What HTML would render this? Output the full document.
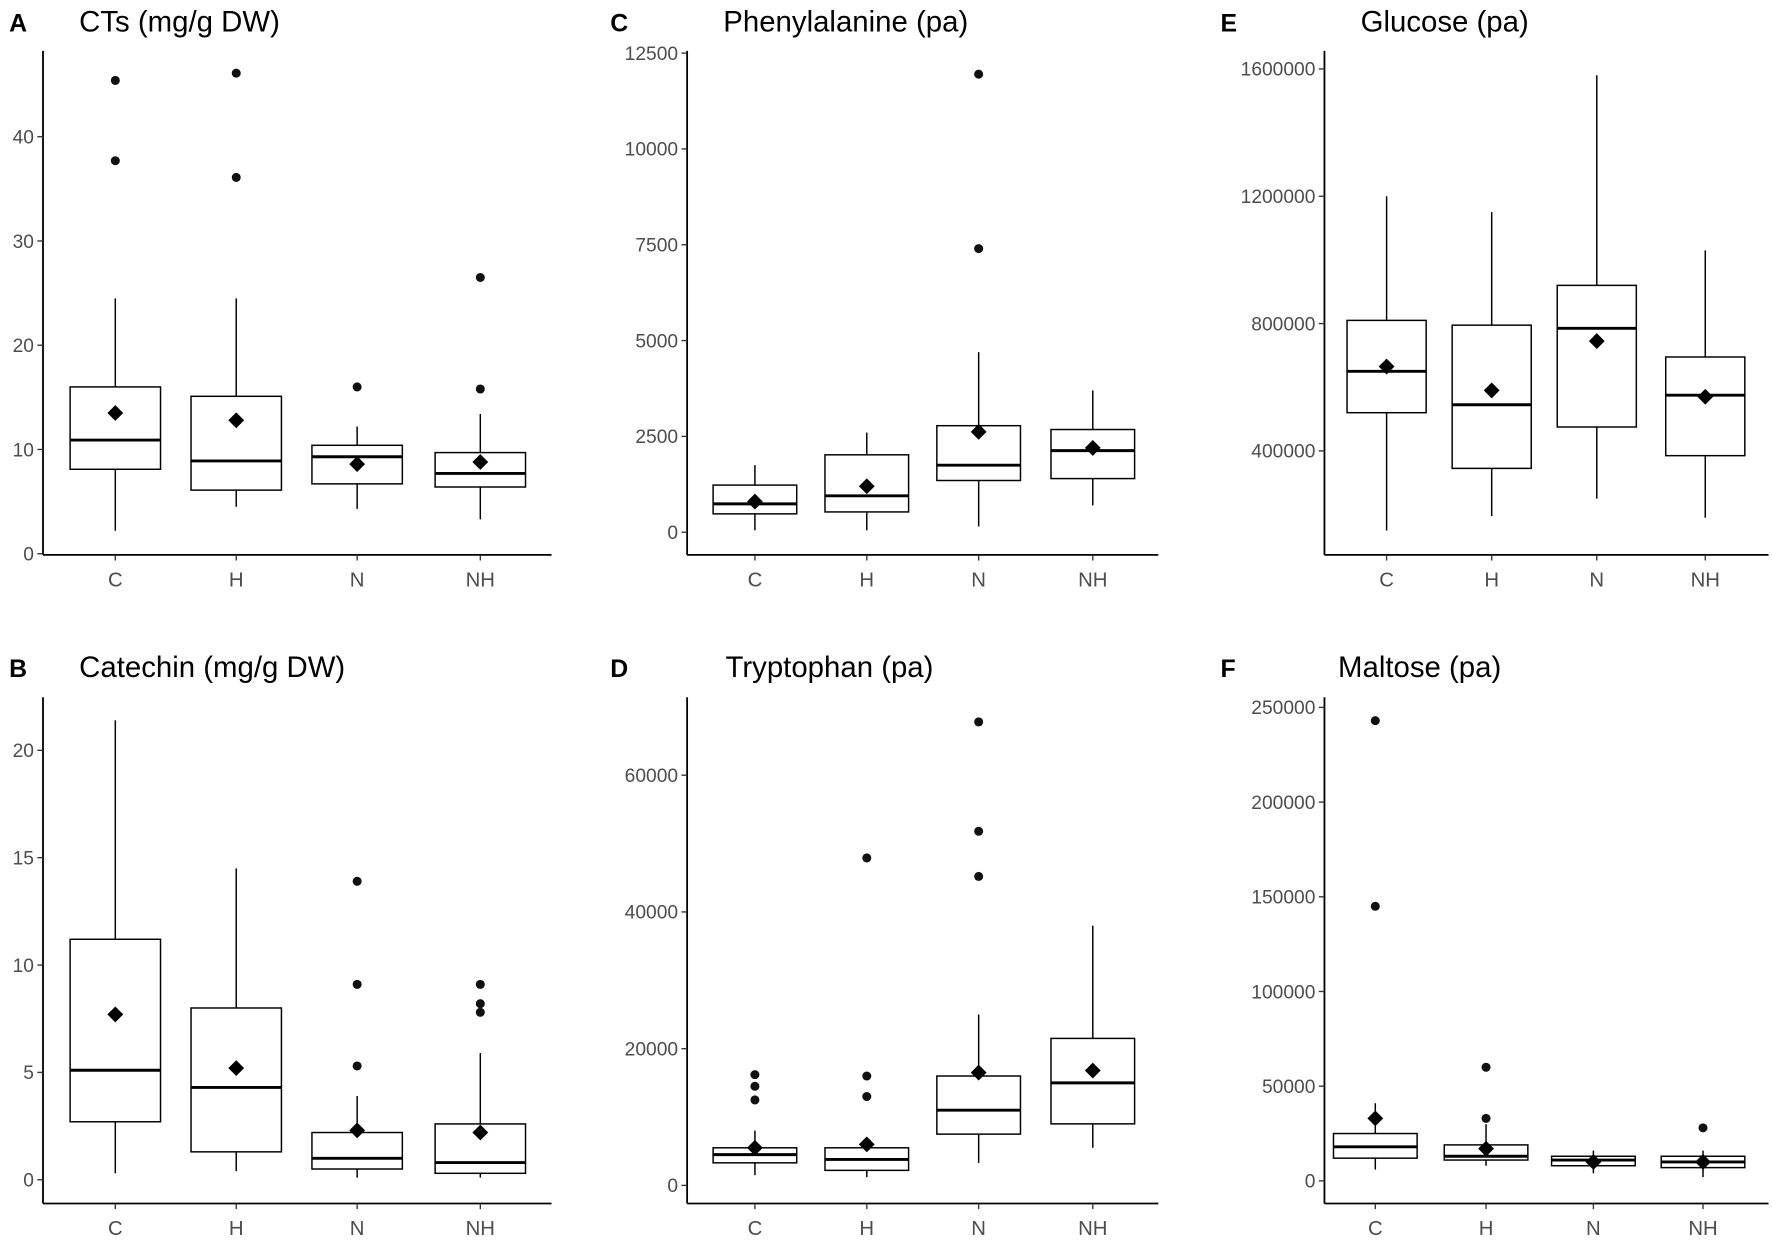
<!DOCTYPE html>
<html><head><meta charset="utf-8"><style>
html,body{margin:0;padding:0;background:#fff}
svg{display:block}
text{font-family:"Liberation Sans",sans-serif}
</style></head><body>
<svg id="fig" width="1772" height="1241" viewBox="0 0 1568 1098.2" xmlns="http://www.w3.org/2000/svg"></svg>
<script>
const categories = ["C","H","N","NH"];
// per-panel data: [whiskerLow, q1, median, q3, whiskerHigh, mean]
const statsA = [[2.2,8.1,10.9,16,24.5,13.5],[4.5,6.1,8.9,15.1,24.5,12.8],[4.3,6.7,9.3,10.4,12.2,8.6],[3.3,6.4,7.7,9.7,13.4,8.8]];
const outA = [[37.7,45.4],[36.1,46.1],[16],[15.8,26.5]];
const ticksA = [0,10,20,30,40];
const statsC = [[50,480,740,1230,1750,800],[50,530,950,2020,2600,1200],[150,1350,1750,2780,4700,2620],[700,1400,2130,2680,3700,2200]];
const outC = [[],[],[7400,11950],[]];
const ticksC = [0,2500,5000,7500,10000,12500];
const statsE = [[150000,520000,650000,810000,1200000,665000],[195000,345000,545000,795000,1150000,590000],[250000,475000,785000,920000,1580000,745000],[190000,385000,575000,695000,1030000,570000]];
const outE = [[],[],[],[]];
const ticksE = [400000,800000,1200000,1600000];
const statsB = [[0.3,2.7,5.1,11.2,21.4,7.7],[0.4,1.3,4.3,8.0,14.5,5.2],[0.1,0.5,1.0,2.2,3.9,2.3],[0.1,0.3,0.8,2.6,5.9,2.2]];
const outB = [[],[],[5.3,9.1,13.9],[7.8,8.2,9.1]];
const ticksB = [0,5,10,15,20];
const statsD = [[1500,3300,4500,5500,8000,5500],[1200,2200,3800,5500,5600,6000],[3300,7500,11000,16000,25000,16500],[5500,9000,15000,21500,38000,16800]];
const outD = [[12500,14500,16200],[13000,16000,47900],[45200,51800,67800],[]];
const ticksD = [0,20000,40000,60000];
const statsF = [[6000,12000,18000,25000,41000,33000],[8000,11000,13000,19000,30000,17000],[4000,8000,11000,13000,16000,10000],[2000,7000,10000,13000,16000,10000]];
const outF = [[145000,243000],[33000,60000],[],[28000]];
const ticksF = [0,50000,100000,150000,200000,250000];

const NS="http://www.w3.org/2000/svg";
const svg=document.getElementById('fig');
function mk(tag,attrs,parent){const e=document.createElementNS(NS,tag);for(const k in attrs)e.setAttribute(k,attrs[k]);(parent||svg).appendChild(e);return e;}

const panels=[
 {letter:"A",title:"CTs (mg/g DW)",lx:8,tx:70,ty:28,ax:38,top:45,bot:491,right:488,v0:0,y0:490,v1:40,y1:121,xs:[102,209,316,425],bw:80,stats:statsA,out:outA,ticks:ticksA},
 {letter:"C",title:"Phenylalanine (pa)",lx:540,tx:640,ty:28,ax:608,top:45,bot:491,right:1025,v0:0,y0:471,v1:12500,y1:47,xs:[668,767,866,967],bw:74,stats:statsC,out:outC,ticks:ticksC},
 {letter:"E",title:"Glucose (pa)",lx:1080,tx:1204,ty:28,ax:1172,top:45,bot:491,right:1565,v0:400000,y0:399,v1:1600000,y1:61,xs:[1227,1320,1413,1509],bw:70,stats:statsE,out:outE,ticks:ticksE},
 {letter:"B",title:"Catechin (mg/g DW)",lx:8,tx:70,ty:599,ax:38,top:617,bot:1065,right:488,v0:0,y0:1044,v1:20,y1:664,xs:[102,209,316,425],bw:80,stats:statsB,out:outB,ticks:ticksB},
 {letter:"D",title:"Tryptophan (pa)",lx:540,tx:642,ty:599,ax:608,top:617,bot:1065,right:1025,v0:0,y0:1049,v1:60000,y1:686,xs:[668,767,866,967],bw:74,stats:statsD,out:outD,ticks:ticksD},
 {letter:"F",title:"Maltose (pa)",lx:1080,tx:1184,ty:599,ax:1172,top:617,bot:1065,right:1565,v0:0,y0:1045,v1:250000,y1:626,xs:[1217,1315,1410,1507],bw:74,stats:statsF,out:outF,ticks:ticksF}
];

panels.forEach(p=>{
  const g=mk('g',{});
  
  
  const y=v=>p.y0+(v-p.v0)*(p.y1-p.y0)/(p.v1-p.v0);
  const L=mk('text',{x:p.lx,y:p.ty,'font-size':22,'font-weight':'bold',fill:'#000'},g);L.textContent=p.letter;
  
  
  const T=mk('text',{x:p.tx,y:p.ty,'font-size':26,fill:'#000'},g);T.textContent=p.title;
  
  
  const ya=mk('line',{x1:p.ax,y1:p.top,x2:p.ax,y2:p.bot,stroke:'#000','stroke-width':1.6},g);
  
  
  const xa=mk('line',{x1:p.ax,y1:p.bot,x2:p.right,y2:p.bot,stroke:'#000','stroke-width':1.6},g);
  
  
  p.ticks.forEach(t=>{
    const yy=y(t);
    mk('line',{x1:p.ax-5,y1:yy,x2:p.ax,y2:yy,stroke:'#333','stroke-width':1.2},g);
    const tl=mk('text',{x:p.ax-8,y:yy+6,'font-size':17,fill:'#4d4d4d','text-anchor':'end'},g);tl.textContent=t;
    
    
  });
  categories.forEach((c,i)=>{
    const cx=p.xs[i];const s=p.stats[i];const hw=p.bw/2;
    mk('line',{x1:cx,y1:p.bot,x2:cx,y2:p.bot+5,stroke:'#333','stroke-width':1.2},g);
    const cl=mk('text',{x:cx,y:p.bot+28,'font-size':18,fill:'#4d4d4d','text-anchor':'middle'},g);cl.textContent=c;
    
    
    const wh=mk('line',{x1:cx,y1:y(s[0]),x2:cx,y2:y(s[4]),stroke:'#000','stroke-width':1.3},g);
    
    
    const bx=mk('rect',{x:cx-hw,y:y(s[3]),width:p.bw,height:y(s[1])-y(s[3]),fill:'#fff',stroke:'#000','stroke-width':1.3},g);
    
    
    const md=mk('line',{x1:cx-hw,y1:y(s[2]),x2:cx+hw,y2:y(s[2]),stroke:'#000','stroke-width':2.6},g);
    
    
    p.out[i].forEach(o=>{
      const pt=mk('circle',{cx:cx,cy:y(o),r:4,fill:'#111'},g);
      
      
    });
    const my=y(s[5]);const d=7;
    const dm=mk('polygon',{points:`${cx},${my-d} ${cx+d},${my} ${cx},${my+d} ${cx-d},${my}`,fill:'#000'},g);
    
    
  });
});
</script>
</body></html>
